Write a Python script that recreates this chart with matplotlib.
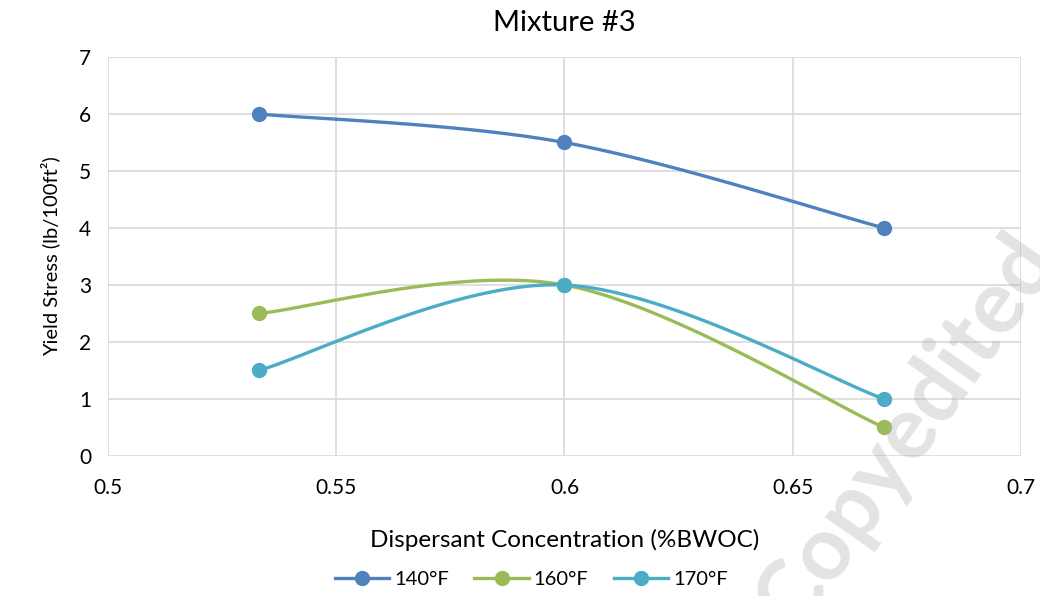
import numpy as np
import matplotlib
matplotlib.use("Agg")
import matplotlib.pyplot as plt
from matplotlib.lines import Line2D

plt.rcParams['font.family'] = ['Lato', 'DejaVu Sans']

# Dispersant concentration (%BWOC) and yield stress (lb/100ft²)
conc = [0.533, 0.600, 0.670]
ys_140 = [6.0, 5.5, 4.0]
ys_160 = [2.5, 3.0, 0.5]
ys_170 = [1.5, 3.0, 1.0]
series_labels = ["140°F", "160°F", "170°F"]
series_colors = ["#4f81bd", "#9bbb59", "#4bacc6"]


def smooth(xs, ys, n=60):
    """Piecewise cubic Bezier through the points (spreadsheet-style smoothing)."""
    p = np.column_stack([xs, ys]).astype(float)
    m = len(p)
    out = []
    for i in range(m - 1):
        p0 = p[i - 1] if i > 0 else p[i]
        p1 = p[i]
        p2 = p[i + 1]
        p3 = p[i + 2] if i + 2 < m else p[i + 1]
        c1 = p1 + (p2 - p0) / 6.0
        c2 = p2 - (p3 - p1) / 6.0
        t = np.linspace(0, 1, n)[:, None]
        seg = ((1 - t) ** 3) * p1 + 3 * ((1 - t) ** 2) * t * c1 + 3 * (1 - t) * t ** 2 * c2 + t ** 3 * p2
        out.append(seg if i == 0 else seg[1:])
    c = np.vstack(out)
    return c[:, 0], c[:, 1]


fig = plt.figure(figsize=(10.4, 5.96), dpi=100)
ax = fig.add_axes([0.1038, 0.2349, 0.8779, 0.6695])

for ys, lab, col in zip([ys_140, ys_160, ys_170], series_labels, series_colors):
    sx, sy = smooth(conc, ys)
    ax.plot(sx, sy, color=col, lw=2.4, solid_capstyle='round', zorder=3)
    ax.plot(conc, ys, 'o', color=col, ms=10, zorder=4)

ax.set_xlim(0.5, 0.7)
ax.set_ylim(0, 7)
ax.set_xticks([0.5, 0.55, 0.6, 0.65, 0.7])
ax.set_xticklabels(["0.5", "0.55", "0.6", "0.65", "0.7"])
ax.set_yticks(range(0, 8))
ax.grid(True, color="#d9d9d9", lw=1.2, zorder=0)
ax.set_axisbelow(True)
for s in ax.spines.values():
    s.set_visible(False)
ax.tick_params(length=0, labelsize=15, colors="#000000")
ax.tick_params(axis='x', pad=16)
ax.tick_params(axis='y', pad=12)

ax.set_title("Mixture #3", fontsize=21, pad=19)
ax.set_xlabel("Dispersant Concentration (%BWOC)", fontsize=17.5, labelpad=22)
ax.set_ylabel("Yield Stress (lb/100ft²)", fontsize=14.5, labelpad=14)

handles = [Line2D([0], [0], color=c, lw=2.4, marker='o', ms=10) for c in series_colors]
fig.legend(handles, series_labels, loc='center', bbox_to_anchor=(0.511, 0.027),
           ncol=3, frameon=False, fontsize=14.5, handlelength=2.7,
           columnspacing=1.25, handletextpad=0.25)

fig.text(0.872, 0.275, "Copyedited", fontsize=64, fontweight='bold', color="#b0b0b0",
         alpha=0.35, rotation=55, ha='center', va='center', zorder=10)

fig.savefig("out.png", dpi=100)
